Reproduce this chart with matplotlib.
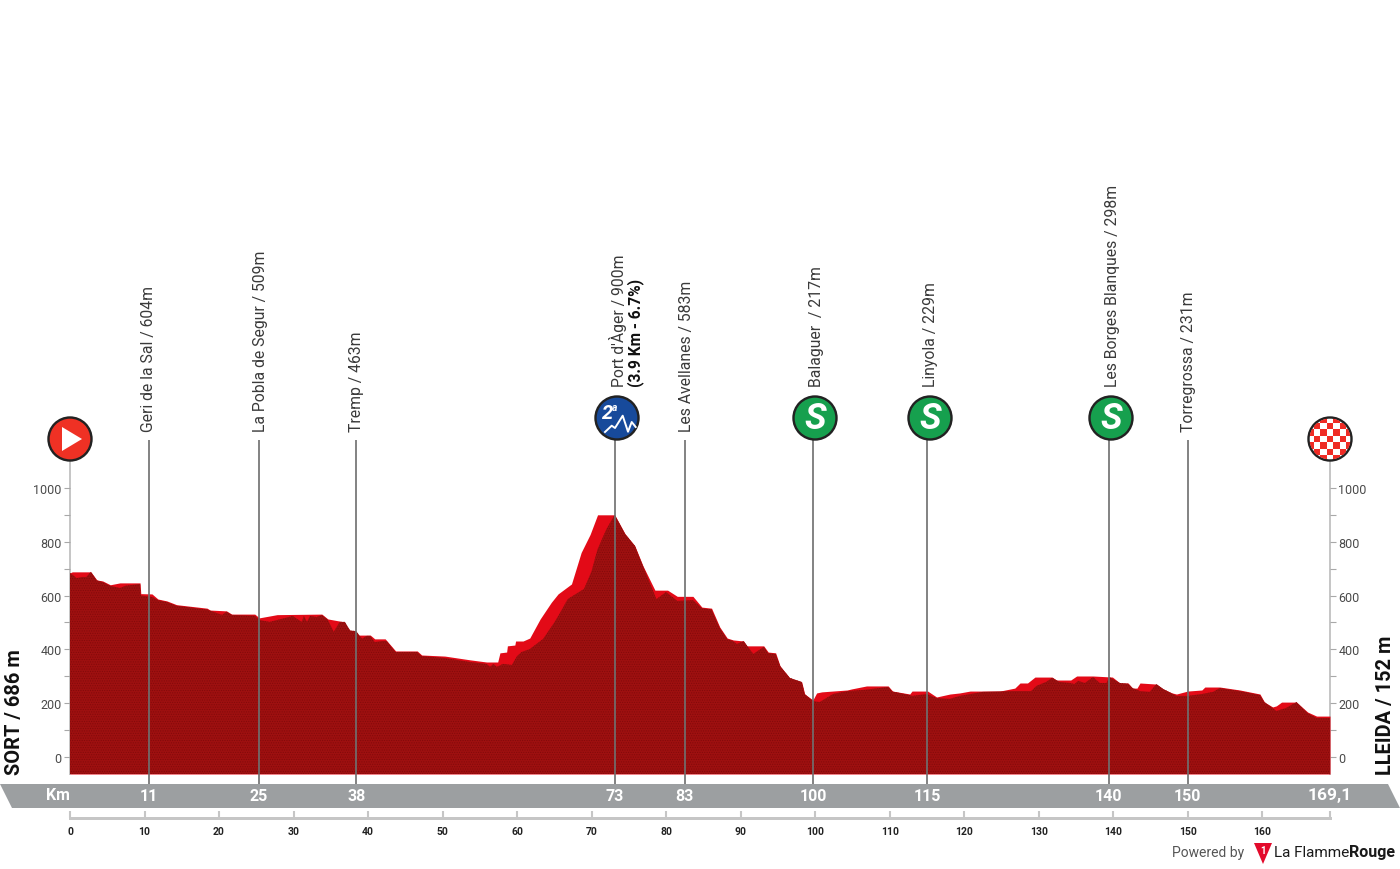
import matplotlib
matplotlib.use('Agg')
import matplotlib.pyplot as plt
from matplotlib.patches import Circle, Polygon, Rectangle

# =============================================================================
# Data
# =============================================================================
top_km = [0, 0.3, 2.8, 3.6, 4.4, 5.4, 6.7, 9.4, 9.5, 11, 11.8, 13, 14.3, 18.4, 18.8, 21, 21.7, 24.8,
          25.4, 27.8, 33.8, 34.6, 36.6, 37.6, 38.3, 38.7, 40.3, 40.9, 42.3, 43.7, 46.6, 47.2, 50.3,
          53.7, 55.9, 57.4, 57.7, 58.6, 58.7, 59.7, 59.8, 60.8, 61.7, 63.1, 64.6, 65.5, 67.3, 68.6,
          69.8, 70.8, 73.1, 74.5, 75.8, 76.9, 78.5, 80.2, 81.5, 83.6, 84.8, 86.1, 87.2, 88.2, 89,
          90.4, 90.8, 93.1, 93.7, 94.7, 95.3, 96.6, 98.2, 98.6, 99.7, 100.2, 100.9, 104.3, 104.9,
          106.9, 109.8, 110.4, 112.7, 113, 115.1, 116.3, 118.1, 119.4, 120.8, 124.8, 126.8, 127.5,
          128.5, 129.5, 131.8, 132.4, 134.3, 135.1, 137.3, 139.9, 140.9, 142, 142.6, 143.2, 143.6,
          145.8, 146.7, 147.9, 148.5, 150, 151.9, 152.3, 154.3, 157, 159.7, 160.3, 161.4, 161.9,
          162.6, 164.6, 166.1, 167.3, 169.1]
top_m = [684, 688, 688, 658, 654, 640, 647, 647, 607, 606, 587, 580, 566, 553, 546, 543, 531, 531,
         517, 529, 531, 513, 503, 470, 468, 453, 453, 439, 439, 394, 394, 379, 375,
         361, 353, 353, 387, 390, 413, 416, 431, 431, 442, 513, 575, 606, 643, 760,
         827, 900, 900, 829, 785, 710, 620, 620, 597, 597, 557, 553, 483, 442, 435,
         431, 413, 413, 390, 387, 338, 294, 279, 234, 212, 238, 242, 249, 253,
         264, 264, 245, 234, 245, 245, 223, 234, 238, 245, 245, 256, 275,
         275, 297, 297, 286, 286, 301, 301, 297, 275, 275, 256, 256, 275,
         271, 253, 238, 234, 245, 249, 260, 260, 249, 234, 204, 186, 190,
         204, 204, 167, 152, 152]

front_km = [0, 0.9, 1.6, 2.2, 2.8, 3.6, 4.4, 5.4, 6.7, 7.4, 9.4, 9.5, 11, 11.8, 13, 14.3, 18.4, 20.4,
            21, 21.7, 24.8, 25.4, 26.8, 29.9, 31.1, 31.4, 31.8, 32.2, 33.1, 33.8, 34.6, 35.4, 36.2,
            36.9, 37.6, 38.4, 39.2, 39.8, 40.3, 40.9, 41.9, 42.5, 43.7, 46.6, 47.2, 50.3, 53.7, 55.9,
            56.4, 56.8, 57.3, 58.1, 59.3, 60, 60.6, 61.7, 63.5, 65, 65.8, 66.8, 69, 70, 70.8, 72, 73.1,
            74.5, 75.8, 76.9, 78.5, 78.7, 80, 81.5, 83.6, 84.8, 86.1, 87.2, 88.2, 89, 89.5, 90.4, 91.7,
            93.1, 93.7, 94.7, 95.3, 96.6, 98.2, 98.6, 99.7, 100.6, 102.4, 104.3, 106.4, 109.8, 110.4,
            112.7, 113, 115, 116.3, 118.1, 119.4, 122.5, 126.5, 129, 129.7, 131, 131.8, 132.8, 134.2,
            134.8, 135.3, 136.2, 137.3, 138.2, 139.1, 139.5, 140.9, 142, 142.6, 143.6, 144.9, 145.8,
            146.7, 148.5, 150, 151.9, 153.4, 154.3, 157, 159.7, 160.3, 161.4, 161.9, 163.2, 164.6,
            166.1, 167.3, 169.1]
front_m = [684, 665, 669, 669, 688, 656, 650, 636, 628, 636, 643, 600, 595, 583, 576, 562, 548, 528,
           540, 528, 525, 509, 502, 524, 502, 524, 502, 524, 520, 528, 510, 465, 502,
           502, 470, 468, 439, 450, 450, 427, 431, 431, 390, 390, 375, 368, 353, 346,
           335, 346, 335, 346, 342, 375, 390, 401, 439, 500, 537, 587, 625, 691, 772, 847, 900,
           829, 785, 710, 600, 587, 613, 580, 583, 553, 548, 480, 438, 431, 420, 431, 383,
           409, 386, 383, 338, 294, 279, 234, 208, 204, 234, 245, 249, 260, 243,
           230, 227, 234, 219, 216, 227, 242, 245, 245, 264, 279, 294, 279, 275,
           271, 283, 275, 297, 275, 275, 297, 275, 272, 256, 245, 242, 271,
           253, 227, 227, 234, 242, 256, 245, 230, 204, 182, 171, 182, 204,
           163, 145, 145]

wp_km = [10.6, 25.35, 38.4, 73.1, 82.5, 99.7, 115, 139.4, 150]
wp_band = ['11', '25', '38', '73', '83', '100', '115', '140', '150']
wp_names = ['Geri de la Sal / 604m', 'La Pobla de Segur / 509m', 'Tremp / 463m', "Port d'Àger / 900m",
            'Les Avellanes / 583m', 'Balaguer  / 217m', 'Linyola / 229m', 'Les Borges Blanques / 298m',
            'Torregrossa / 231m']

y_major = [0, 200, 400, 600, 800, 1000]
y_minor = [100, 300, 500, 700, 900]
km_ticks = list(range(0, 170, 10))
total_km = 169.1

# =============================================================================
# Fonts and figure
# =============================================================================
plt.rcParams['hatch.linewidth'] = 0.5

W, H = 1400, 870
fig = plt.figure(figsize=(14, 8.7), dpi=100, facecolor='white')
px = 72 / 100  # one pixel in points

ax = fig.add_axes([70 / W, 1 - 775 / H, 1260 / W, 334 / H])
ax.set_xlim(0, total_km)
ax.set_ylim(-63.2, 1178)
ax.patch.set_visible(False)

# =============================================================================
# Profile
# =============================================================================
ax.fill_between(top_km, -63.2, top_m, color='#e30a17', lw=0, zorder=2)
ax.fill_between(front_km, -63.2, front_m, facecolor='#9e1010', edgecolor='#820a0a', hatch='.......', lw=0, zorder=3)
ax.vlines(wp_km, -100, 1178, color='#707070', lw=2 * px, alpha=0.85, clip_on=False, zorder=4)

# elevation axes on both sides, km scale under the band
for side in ['left', 'right']:
    ax.spines[side].set_color('#c6c6c6')
    ax.spines[side].set_linewidth(2 * px)
    ax.spines[side].set_zorder(1)
ax.spines['top'].set_visible(False)
ax.set_yticks(y_major)
ax.set_yticks(y_minor, minor=True)
ax.tick_params(axis='y', which='both', left=True, right=True, labelleft=True, labelright=True,
               color='#a8a8a8', length=4, width=0.8, labelsize=9, labelcolor='#4a4a4a', pad=2)
for lab in ax.get_yticklabels():
    lab.set_fontfamily('Roboto')

ax.spines['bottom'].set_position(('outward', 44 * px))
ax.spines['bottom'].set_color('#c6c6c6')
ax.spines['bottom'].set_linewidth(3 * px)
ax.set_xticks(km_ticks + [total_km])
ax.set_xticklabels([str(k) for k in km_ticks] + [''])
ax.tick_params(axis='x', direction='in', color='#c6c6c6', length=5, width=1.5, labelsize=7.5,
               labelcolor='#222222', pad=6)
for lab in ax.get_xticklabels():
    lab.set_fontfamily('Roboto')
    lab.set_fontweight('bold')

# =============================================================================
# Overlay in pixels: band, icons, labels
# =============================================================================
ov = fig.add_axes([0, 0, 1, 1])
ov.set_xlim(0, W)
ov.set_ylim(H, 0)
ov.axis('off')
ov.patch.set_visible(False)


def km_x(km):
    return 70 + km * 1260 / total_km


ov.add_patch(Polygon([(0, 785), (1388, 785), (1400, 809), (12, 809)], fc='#9c9fa1', ec='none'))
ov.text(58, 796, 'Km', color='white', fontsize=11.5, fontweight='bold', family='Roboto', ha='center', va='center')
for km, lab in zip(wp_km, wp_band):
    ov.text(km_x(km), 797, lab, color='white', fontsize=11.5, fontweight='bold', family='Roboto', ha='center', va='center')
ov.text(1330, 796, '169,1', color='white', fontsize=12.5, fontweight='bold', family='Roboto', ha='center', va='center')

ov.text(15, 775, 'SORT / 686 m', rotation=90, color='#111111', fontsize=14.4, fontweight='bold', family='Roboto',
        ha='center', va='bottom')
ov.text(1386, 775, 'LLEIDA / 152 m', rotation=90, color='#111111', fontsize=14.4, fontweight='bold', family='Roboto',
        ha='center', va='bottom')

label_x = [149, 260, 356, 618, 686, 816, 931, 1112, 1188]
label_y = [432, 432, 432, 387, 432, 387, 387, 387, 432]
for x, y, name in zip(label_x, label_y, wp_names):
    ov.text(x, y, name, rotation=90, color='#3a3a3a', fontsize=11.3, family='Roboto',
            ha='center', va='bottom')
ov.text(636, 387, '(3.9 Km - 6.7%)', rotation=90, color='#111111', fontsize=11.2, fontweight='bold', family='Roboto',
        ha='center', va='bottom')


def badge(cx, cy, color):
    c = Circle((cx, cy), 21.5, fc=color, ec='#222222', lw=2.4 * px, zorder=5)
    ov.add_patch(c)
    return c


# start
badge(70, 440, '#ef3124')
ov.add_patch(Polygon([(62, 428), (82, 440), (62, 452)], fc='white', ec='none', zorder=6))

# finish, checkered
c = badge(1330, 440, 'white')
for i in range(-3, 4):
    for j in range(-3, 4):
        if (i + j) % 2 == 0:
            r = Rectangle((1330 + i * 6.4 - 3.2, 440 + j * 6.4 - 3.2), 6.4, 6.4, fc='#ef2b24', ec='none', zorder=6)
            ov.add_patch(r)
            r.set_clip_path(Circle((1330, 440), 20.5, transform=ov.transData))

# mountain pass
badge(617, 419, '#174a9b')
ov.plot([605, 611.7, 615, 622.7, 628, 631.7, 635.7], [433, 426.7, 429, 416.7, 432.7, 423, 428],
        color='white', lw=1.4, zorder=6)
ov.text(607.5, 414, '2', color='white', fontsize=14.5, fontweight='bold', style='italic', family='Roboto',
        ha='center', va='center', zorder=6)
ov.text(615, 408.5, 'a', color='white', fontsize=7.5, fontweight='bold', style='italic', family='Roboto',
        ha='center', va='center', zorder=6)

# sprints
for cx in [815, 930, 1111]:
    badge(cx, 419, '#16a04e')
    ov.text(cx, 419, 'S', color='white', fontsize=26, fontweight='bold', style='italic', family='Roboto',
            ha='center', va='center', zorder=6)

# footer logo
ov.text(1244, 853, 'Powered by', color='#555555', fontsize=10, family='Roboto', ha='right', va='center')
ov.add_patch(Polygon([(1254, 844), (1272, 844), (1263, 865)], fc='#e30a2b', ec='none'))
ov.text(1263, 851, '1', color='white', fontsize=7, fontweight='bold', family='Roboto', ha='center', va='center')
ov.text(1274, 853, 'La Flamme', color='#1a1a1a', fontsize=11, family='Roboto', ha='left', va='center')
ov.text(1349, 853, 'Rouge', color='#1a1a1a', fontsize=11.5, fontweight='bold', family='Roboto', ha='left', va='center')

fig.savefig('out.png', dpi=100, facecolor='white')
